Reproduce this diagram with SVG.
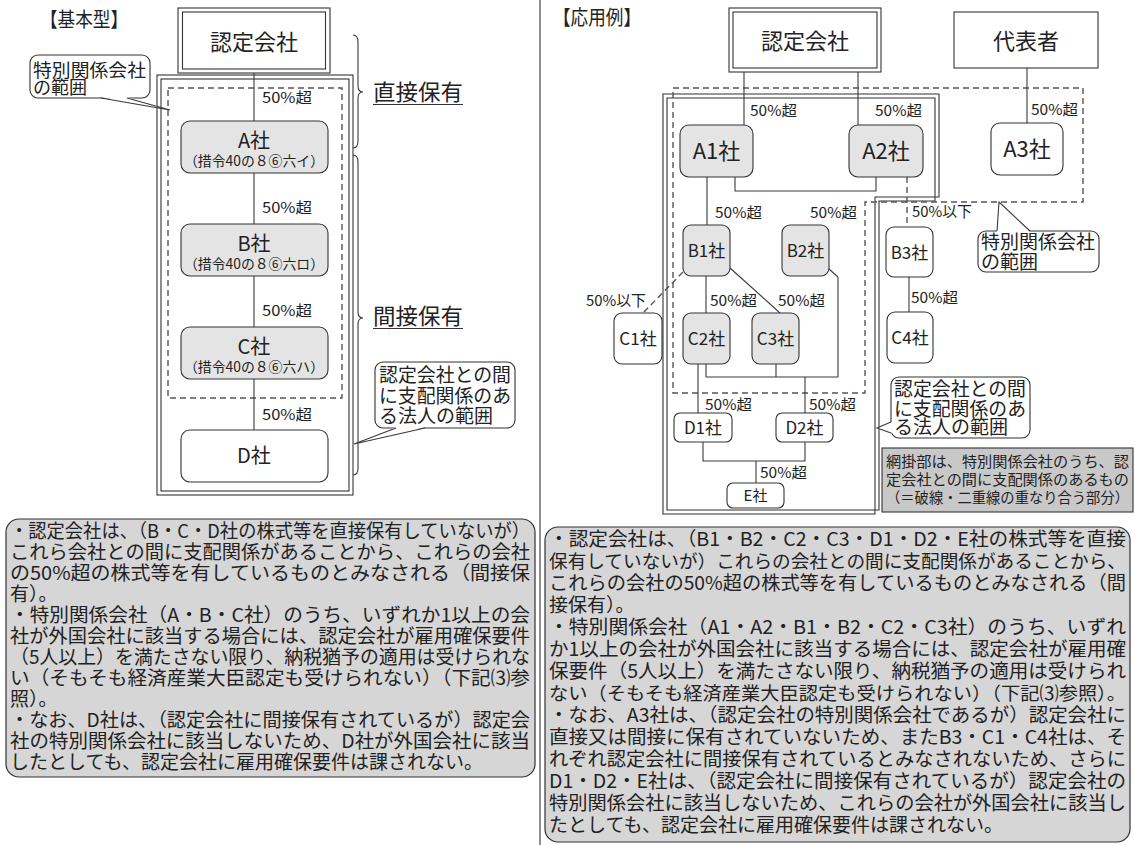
<svg xmlns="http://www.w3.org/2000/svg" width="1135" height="845" viewBox="0 0 1135 845">
<style>
.t{font-family:"Noto Sans CJK JP","Noto Sans",sans-serif;fill:#222}
.ln{stroke:#3a3a3a;stroke-width:1.1;fill:none}
.dash{stroke:#555;stroke-width:1.4;stroke-dasharray:6 4;fill:none}
.dbl{stroke:#333;stroke-width:1.1;fill:none}
.gn{fill:#e4e4e4;stroke:#333;stroke-width:1.1}
.wn{fill:#fff;stroke:#333;stroke-width:1.1}
.box{fill:#d6d6d6;stroke:#333;stroke-width:1.2}
.lbl{font-size:15px}
.bt{font-size:19px}
.mid{text-anchor:middle}
</style>
<rect width="1135" height="845" fill="#fff"/>
<line x1="540" y1="0" x2="540" y2="845" stroke="#333" stroke-width="1.1"/>

<!-- ===== LEFT ===== -->
<text class="t" x="40" y="27" font-size="20" textLength="88" lengthAdjust="spacingAndGlyphs">【基本型】</text>

<g id="L-ranges">
<rect class="dbl" x="157" y="75" width="196" height="420"/>
<rect class="dbl" x="161" y="79" width="188" height="412"/>
<rect class="dash" x="168" y="88" width="174" height="310"/>
</g>

<g id="L-connectors">
<line class="ln" x1="254" y1="73" x2="254" y2="121"/>
<line class="ln" x1="254" y1="173" x2="254" y2="224"/>
<line class="ln" x1="254" y1="276" x2="254" y2="327"/>
<line class="ln" x1="254" y1="379" x2="254" y2="430"/>
<text class="t lbl" x="262" y="103" textLength="50" lengthAdjust="spacingAndGlyphs">50%超</text>
<text class="t lbl" x="262" y="213" textLength="50" lengthAdjust="spacingAndGlyphs">50%超</text>
<text class="t lbl" x="262" y="316" textLength="50" lengthAdjust="spacingAndGlyphs">50%超</text>
<text class="t lbl" x="262" y="420" textLength="50" lengthAdjust="spacingAndGlyphs">50%超</text>
</g>

<g id="L-nintei">
<rect class="wn" x="178" y="8" width="152" height="65"/>
<rect class="dbl" x="182.5" y="12" width="143" height="57"/>
<text class="t mid" x="254" y="50" font-size="22">認定会社</text>
</g>
<g id="L-A">
<rect class="gn" x="181" y="121" width="147" height="52" rx="9"/>
<text class="t mid" x="254" y="148" font-size="20">A社</text>
<text class="t mid" x="254" y="166" font-size="14" textLength="140" lengthAdjust="spacingAndGlyphs">（措令40の８⑥六イ）</text>
</g>
<g id="L-B">
<rect class="gn" x="181" y="224" width="147" height="52" rx="9"/>
<text class="t mid" x="254" y="251" font-size="20">B社</text>
<text class="t mid" x="254" y="269" font-size="14" textLength="140" lengthAdjust="spacingAndGlyphs">（措令40の８⑥六ロ）</text>
</g>
<g id="L-C">
<rect class="gn" x="181" y="327" width="147" height="52" rx="9"/>
<text class="t mid" x="254" y="354" font-size="20">C社</text>
<text class="t mid" x="254" y="372" font-size="14" textLength="140" lengthAdjust="spacingAndGlyphs">（措令40の８⑥六ハ）</text>
</g>
<g id="L-D">
<rect class="wn" x="181" y="430" width="147" height="52" rx="9"/>
<text class="t mid" x="254" y="463" font-size="20">D社</text>
</g>

<g id="L-braces">
<path class="ln" d="M353,35 Q358,35 358,42 L358,86 Q358,92 363,92 Q358,92 358,98 L358,141 Q358,148 353,148"/>
<path class="ln" d="M353,155 Q358,155 358,162 L358,312 Q358,318 363,318 Q358,318 358,324 L358,468 Q358,475 353,475"/>
<text class="t" x="373" y="100" font-size="22" textLength="90" lengthAdjust="spacingAndGlyphs">直接保有</text>
<line x1="373" y1="104.5" x2="463" y2="104.5" stroke="#333" stroke-width="1.2"/>
<text class="t" x="373" y="324" font-size="22" textLength="90" lengthAdjust="spacingAndGlyphs">間接保有</text>
<line x1="373" y1="328.5" x2="463" y2="328.5" stroke="#333" stroke-width="1.2"/>
</g>

<g id="L-callout1">
<rect class="wn" x="30" y="55" width="120" height="43" rx="8"/>
<polygon points="101,97 170,110 127,97" fill="#fff"/>
<polyline class="ln" points="101,98 170,110 127,98"/>
<text class="t" x="33" y="77" font-size="18" textLength="113" lengthAdjust="spacingAndGlyphs">特別関係会社</text>
<text class="t" x="33" y="94" font-size="18">の範囲</text>
</g>
<g id="L-callout2">
<rect class="wn" x="375" y="362" width="140" height="66" rx="8"/>
<polygon points="396,427 354,444 425,427" fill="#fff"/>
<polyline class="ln" points="396,428 354,444 425,428"/>
<text class="t" x="379" y="382" font-size="19" textLength="132" lengthAdjust="spacingAndGlyphs">認定会社との間</text>
<text class="t" x="379" y="403" font-size="19" textLength="132" lengthAdjust="spacingAndGlyphs">に支配関係のあ</text>
<text class="t" x="379" y="423" font-size="19">る法人の範囲</text>
</g>

<g id="L-note">
<rect class="box" x="6" y="519" width="529" height="258" rx="13"/>
<g class="t bt">
<text x="10" y="538" textLength="520" lengthAdjust="spacingAndGlyphs">・認定会社は、（B・C・D社の株式等を直接保有していないが）</text>
<text x="10" y="559" textLength="520" lengthAdjust="spacingAndGlyphs">これら会社との間に支配関係があることから、これらの会社</text>
<text x="10" y="580" textLength="520" lengthAdjust="spacingAndGlyphs">の50%超の株式等を有しているものとみなされる（間接保</text>
<text x="10" y="601">有）。</text>
<text x="10" y="622" textLength="520" lengthAdjust="spacingAndGlyphs">・特別関係会社（A・B・C社）のうち、いずれか1以上の会</text>
<text x="10" y="643" textLength="520" lengthAdjust="spacingAndGlyphs">社が外国会社に該当する場合には、認定会社が雇用確保要件</text>
<text x="10" y="664" textLength="520" lengthAdjust="spacingAndGlyphs">（5人以上）を満たさない限り、納税猶予の適用は受けられな</text>
<text x="10" y="685" textLength="520" lengthAdjust="spacingAndGlyphs">い（そもそも経済産業大臣認定も受けられない）（下記⑶参</text>
<text x="10" y="706">照）。</text>
<text x="10" y="727" textLength="520" lengthAdjust="spacingAndGlyphs">・なお、D社は、（認定会社に間接保有されているが）認定会</text>
<text x="10" y="748" textLength="520" lengthAdjust="spacingAndGlyphs">社の特別関係会社に該当しないため、D社が外国会社に該当</text>
<text x="10" y="769">したとしても、認定会社に雇用確保要件は課されない。</text>
</g>
</g>

<!-- ===== RIGHT ===== -->
<text class="t" x="553" y="25" font-size="20" textLength="88" lengthAdjust="spacingAndGlyphs">【応用例】</text>

<g id="R-ranges">
<polygon class="dbl" points="663,94 939,94 939,197 875,197 875,514 663,514"/>
<polygon class="dbl" points="667,98 935,98 935,201 879,201 879,510 667,510"/>
<polygon class="dash" points="673,88 1083,88 1083,202 865,202 865,393 673,393"/>
</g>

<g id="R-connectors">
<line class="ln" x1="744" y1="72" x2="744" y2="125"/>
<line class="ln" x1="858" y1="72" x2="858" y2="125"/>
<line class="ln" x1="1027" y1="68" x2="1027" y2="123"/>
<polyline class="ln" points="735,177 735,191 876,191 876,177"/>
<line class="ln" x1="707" y1="177" x2="707" y2="225"/>
<line class="dash" x1="907" y1="177" x2="907" y2="227" stroke-dasharray="4 3" stroke-width="1.1"/>
<line class="ln" x1="706" y1="276" x2="706" y2="313"/>
<line class="ln" x1="730" y1="268" x2="780" y2="313"/>
<line class="dash" x1="683" y1="272" x2="643" y2="313" stroke-dasharray="4 3" stroke-width="1.1"/>
<polyline class="ln" points="829,269 838,277 838,377"/>
<line class="ln" x1="706" y1="364" x2="706" y2="377"/>
<line class="ln" x1="706" y1="377" x2="838" y2="377"/>
<line class="ln" x1="776" y1="364" x2="776" y2="377"/>
<line class="ln" x1="698" y1="364" x2="698" y2="413"/>
<line class="ln" x1="805" y1="377" x2="805" y2="413"/>
<line class="ln" x1="909" y1="277" x2="909" y2="312"/>
<polyline class="ln" points="703,442 703,461 805,461 805,442"/>
<line class="ln" x1="756" y1="461" x2="756" y2="483"/>
<text class="t lbl" x="750" y="116" textLength="47" lengthAdjust="spacingAndGlyphs">50%超</text>
<text class="t lbl" x="875" y="116" textLength="47" lengthAdjust="spacingAndGlyphs">50%超</text>
<text class="t lbl" x="1031" y="115" textLength="47" lengthAdjust="spacingAndGlyphs">50%超</text>
<text class="t lbl" x="715" y="218" textLength="47" lengthAdjust="spacingAndGlyphs">50%超</text>
<text class="t lbl" x="810" y="218" textLength="47" lengthAdjust="spacingAndGlyphs">50%超</text>
<text class="t lbl" x="912" y="217" textLength="60" lengthAdjust="spacingAndGlyphs">50%以下</text>
<text class="t lbl" x="586" y="306" textLength="60" lengthAdjust="spacingAndGlyphs">50%以下</text>
<text class="t lbl" x="710" y="306" textLength="47" lengthAdjust="spacingAndGlyphs">50%超</text>
<text class="t lbl" x="778" y="306" textLength="47" lengthAdjust="spacingAndGlyphs">50%超</text>
<text class="t lbl" x="911" y="303" textLength="47" lengthAdjust="spacingAndGlyphs">50%超</text>
<text class="t lbl" x="705" y="410" textLength="47" lengthAdjust="spacingAndGlyphs">50%超</text>
<text class="t lbl" x="809" y="410" textLength="47" lengthAdjust="spacingAndGlyphs">50%超</text>
<text class="t lbl" x="760" y="478" textLength="47" lengthAdjust="spacingAndGlyphs">50%超</text>
</g>

<g id="R-nintei">
<rect class="wn" x="729" y="8" width="152" height="64"/>
<rect class="dbl" x="733" y="12" width="144" height="56"/>
<text class="t mid" x="805" y="49" font-size="22">認定会社</text>
</g>
<g id="R-daihyo">
<rect class="wn" x="954" y="12" width="144" height="56"/>
<text class="t mid" x="1026" y="49" font-size="22">代表者</text>
</g>
<g id="R-A1"><rect class="gn" x="680" y="125" width="73" height="52" rx="9"/><text class="t mid" x="716.5" y="159" font-size="22">A1社</text></g>
<g id="R-A2"><rect class="gn" x="849" y="125" width="74" height="52" rx="9"/><text class="t mid" x="886" y="159" font-size="22">A2社</text></g>
<g id="R-A3"><rect class="wn" x="991" y="123" width="72" height="52" rx="9"/><text class="t mid" x="1027" y="157" font-size="22">A3社</text></g>
<g id="R-B1"><rect class="gn" x="683" y="225" width="47" height="51" rx="8"/><text class="t mid" x="706.5" y="257" font-size="17">B1社</text></g>
<g id="R-B2"><rect class="gn" x="782" y="225" width="47" height="51" rx="8"/><text class="t mid" x="805.5" y="257" font-size="17">B2社</text></g>
<g id="R-B3"><rect class="wn" x="886" y="227" width="47" height="50" rx="8"/><text class="t mid" x="909.5" y="258.5" font-size="17">B3社</text></g>
<g id="R-C1"><rect class="wn" x="614" y="313" width="48" height="51" rx="8"/><text class="t mid" x="638" y="345" font-size="17">C1社</text></g>
<g id="R-C2"><rect class="gn" x="683" y="313" width="47" height="51" rx="8"/><text class="t mid" x="706.5" y="345" font-size="17">C2社</text></g>
<g id="R-C3"><rect class="gn" x="752" y="313" width="47" height="51" rx="8"/><text class="t mid" x="775.5" y="345" font-size="17">C3社</text></g>
<g id="R-C4"><rect class="wn" x="887" y="312" width="46" height="51" rx="8"/><text class="t mid" x="910" y="344" font-size="17">C4社</text></g>
<g id="R-D1"><rect class="wn" x="674" y="413" width="58" height="29" rx="6"/><text class="t mid" x="703" y="434" font-size="17">D1社</text></g>
<g id="R-D2"><rect class="wn" x="776" y="413" width="57" height="29" rx="6"/><text class="t mid" x="804.5" y="434" font-size="17">D2社</text></g>
<g id="R-E"><rect class="wn" x="727" y="483" width="57" height="25" rx="6"/><text class="t mid" x="755.5" y="501" font-size="15">E社</text></g>

<g id="R-callout1">
<rect class="wn" x="978" y="231" width="121" height="41" rx="8"/>
<polygon points="997,232 999,202 1030,232" fill="#fff"/>
<polyline class="ln" points="997,231 999,202 1030,231"/>
<text class="t" x="981" y="249" font-size="19" textLength="114" lengthAdjust="spacingAndGlyphs">特別関係会社</text>
<text class="t" x="981" y="269" font-size="19">の範囲</text>
</g>
<g id="R-callout2">
<rect class="wn" x="891" y="377" width="139" height="61" rx="8"/>
<polygon points="892,422 877,428 892,433" fill="#fff"/>
<polyline class="ln" points="891,422 877,428 891,433"/>
<text class="t" x="894" y="396" font-size="19" textLength="132" lengthAdjust="spacingAndGlyphs">認定会社との間</text>
<text class="t" x="894" y="416" font-size="19" textLength="132" lengthAdjust="spacingAndGlyphs">に支配関係のあ</text>
<text class="t" x="894" y="434" font-size="19">る法人の範囲</text>
</g>

<g id="R-legend">
<rect x="882" y="448" width="251" height="64" fill="#c8c8c8" stroke="#333" stroke-width="1.1"/>
<text class="t" x="886" y="467" font-size="14.5" textLength="243" lengthAdjust="spacingAndGlyphs">網掛部は、特別関係会社のうち、認</text>
<text class="t" x="886" y="485" font-size="14.5" textLength="243" lengthAdjust="spacingAndGlyphs">定会社との間に支配関係のあるもの</text>
<text class="t" x="886" y="503" font-size="14.5" textLength="243" lengthAdjust="spacingAndGlyphs">（＝破線・二重線の重なり合う部分）</text>
</g>

<g id="R-note">
<rect class="box" x="545" y="527" width="585" height="315" rx="13"/>
<g class="t bt">
<text x="549" y="546" textLength="577" lengthAdjust="spacingAndGlyphs">・認定会社は、（B1・B2・C2・C3・D1・D2・E社の株式等を直接</text>
<text x="549" y="568" font-size="18.5" textLength="577" lengthAdjust="spacingAndGlyphs">保有していないが）これらの会社との間に支配関係があることから、</text>
<text x="549" y="590" textLength="577" lengthAdjust="spacingAndGlyphs">これらの会社の50%超の株式等を有しているものとみなされる（間</text>
<text x="549" y="612">接保有）。</text>
<text x="549" y="634" textLength="577" lengthAdjust="spacingAndGlyphs">・特別関係会社（A1・A2・B1・B2・C2・C3社）のうち、いずれ</text>
<text x="549" y="656" textLength="577" lengthAdjust="spacingAndGlyphs">か1以上の会社が外国会社に該当する場合には、認定会社が雇用確</text>
<text x="549" y="678" textLength="577" lengthAdjust="spacingAndGlyphs">保要件（5人以上）を満たさない限り、納税猶予の適用は受けられ</text>
<text x="549" y="700" font-size="18.5" textLength="577" lengthAdjust="spacingAndGlyphs">ない（そもそも経済産業大臣認定も受けられない）（下記⑶参照）。</text>
<text x="549" y="722" textLength="577" lengthAdjust="spacingAndGlyphs">・なお、A3社は、（認定会社の特別関係会社であるが）認定会社に</text>
<text x="549" y="744" textLength="577" lengthAdjust="spacingAndGlyphs">直接又は間接に保有されていないため、またB3・C1・C4社は、そ</text>
<text x="549" y="766" textLength="577" lengthAdjust="spacingAndGlyphs">れぞれ認定会社に間接保有されているとみなされないため、さらに</text>
<text x="549" y="788" textLength="577" lengthAdjust="spacingAndGlyphs">D1・D2・E社は、（認定会社に間接保有されているが）認定会社の</text>
<text x="549" y="810" textLength="577" lengthAdjust="spacingAndGlyphs">特別関係会社に該当しないため、これらの会社が外国会社に該当し</text>
<text x="549" y="832">たとしても、認定会社に雇用確保要件は課されない。</text>
</g>
</g>
</svg>
